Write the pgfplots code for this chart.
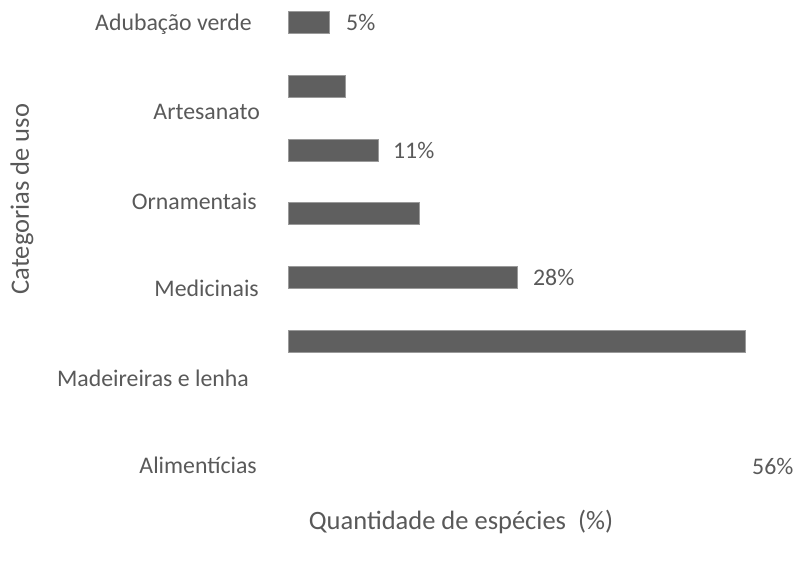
\documentclass[border=0pt]{standalone}
\usepackage{pgfplots}
\pgfplotsset{compat=1.18}
\usepackage{fontspec}
\setmainfont{Carlito}
\definecolor{txt}{HTML}{595959}
\definecolor{barc}{HTML}{5F5F5F}
\definecolor{bare}{HTML}{9A9A9A}
\begin{document}
\begin{tikzpicture}
\useasboundingbox (0,0) rectangle (794pt,-566pt);
\begin{axis}[
  at={(288.5pt,0pt)}, anchor=north west,
  scale only axis, width=489.6pt, height=566pt,
  xmin=0, xmax=60, ymin=0, ymax=566, y dir=reverse,
  axis line style={draw=none},
  xtick=\empty,
  ytick={23,112,201.5,288.5,379,466},
  yticklabels={Adubação verde\kern8pt,Artesanato,Ornamentais\kern3pt,Medicinais\kern1pt,Madeireiras e lenha\kern11pt,Alimentícias\kern3pt},
  major tick length=0pt,
  yticklabel style={anchor=east, inner sep=0pt, xshift=-28.5pt, text height=15.3pt, text depth=0pt,
    font=\fontsize{23.8}{28}\selectfont, text=txt},
  xlabel={Quantidade de espécies\ \ (\%)},
  xlabel style={at={(axis cs:21.14,521)}, anchor=center, yshift=-1pt, font=\fontsize{26.5}{31}\selectfont, text=txt},
  ylabel={Categorias de uso},
  ylabel style={at={(axis cs:-32.66,199)}, anchor=center, font=\fontsize{26.5}{31}\selectfont, text=txt},
  clip=false,
]
\addplot[xbar, bar width=22pt, fill=barc, draw=bare, line width=0.8pt]
  coordinates {(5,22) (7,86) (11,150) (16,213.5) (28,277) (56,341)};
\begin{scope}[every node/.style={anchor=west, inner sep=0pt, text height=15.3pt, text depth=0pt,
    font=\fontsize{23.8}{28}\selectfont, text=txt}]
\node at (axis cs:7.05,23) {5\%};
\node at (axis cs:12.8,151) {11\%};
\node at (axis cs:29.96,278) {28\%};
\node at (axis cs:56.8,466.5) {56\%};
\end{scope}
\end{axis}
\end{tikzpicture}
\end{document}
